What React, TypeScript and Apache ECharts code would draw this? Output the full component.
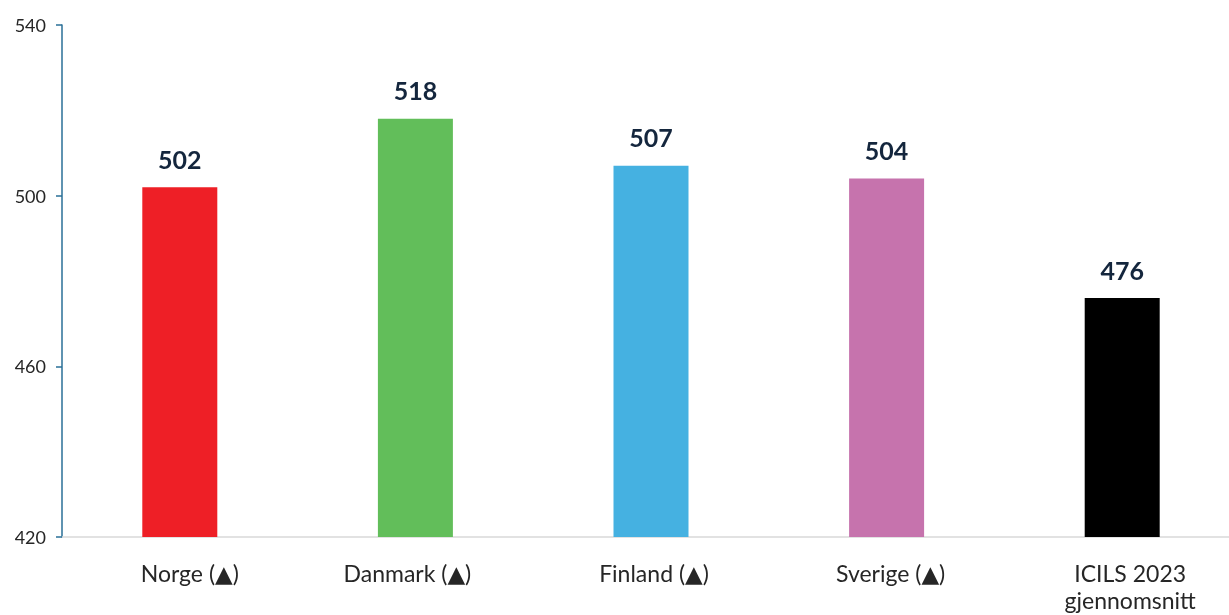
import React, { useEffect, useRef } from "react";
import * as echarts from "echarts";

const categories = ["Norge (▲)", "Danmark (▲)", "Finland (▲)", "Sverige (▲)", "ICILS 2023\ngjennomsnitt"];
const values = [502, 518, 507, 504, 476];
const barColors = ["#ee1f26", "#62be5a", "#45b1e1", "#c673ad", "#000000"];
const yTicks = [420, 460, 500, 540];
// horizontal shift of each category label relative to its bar (px)
const labelShift = [10, -8, 3, 4, 8];

export default function App() {
  const ref = useRef<HTMLDivElement>(null);
  useEffect(() => {
    const chart = echarts.init(ref.current!, undefined, { renderer: "svg" });
    chart.setOption({
      animation: false,
      grid: { left: 62, right: 0, top: 25, bottom: 78, containLabel: false },
      xAxis: {
        type: "category",
        data: categories.map((c, i) => ({
          value: c,
          textStyle: {
            padding: labelShift[i] >= 0 ? [0, 0, 0, 2 * labelShift[i]] : [0, -2 * labelShift[i], 0, 0],
          },
        })),
        axisLine: { show: true, lineStyle: { color: "#d9d9d9", width: 1.5 } },
        axisTick: { show: false },
        axisLabel: {
          color: "#262626",
          fontFamily: "Lato, 'DejaVu Sans'",
          fontSize: 23,
          margin: 22,
          lineHeight: 27,
          interval: 0,
        },
      },
      yAxis: {
        type: "value",
        min: yTicks[0],
        max: yTicks[yTicks.length - 1],
        interval: 40,
        splitLine: { show: false },
        axisLine: { show: true, lineStyle: { color: "#2a6f97", width: 1.5 } },
        axisTick: { show: true, length: 6, lineStyle: { color: "#2a6f97", width: 1.5 } },
        axisLabel: { color: "#262626", fontFamily: "Lato", fontSize: 18, margin: 16 },
      },
      series: [
        {
          type: "bar",
          barWidth: 75,
          data: values.map((v, i) => ({ value: v, itemStyle: { color: barColors[i] } })),
          label: {
            show: true,
            position: "top",
            distance: 16,
            color: "#14263d",
            fontFamily: "Lato",
            fontWeight: "bold",
            fontSize: 25,
          },
        },
      ],
    });
    return () => chart.dispose();
  }, []);
  return (
    <div style={{ position: "fixed", left: 0, top: 0, width: 1229, height: 615, overflow: "hidden" }}>
      <div ref={ref} style={{ width: 1240, height: 615 }} />
    </div>
  );
}
